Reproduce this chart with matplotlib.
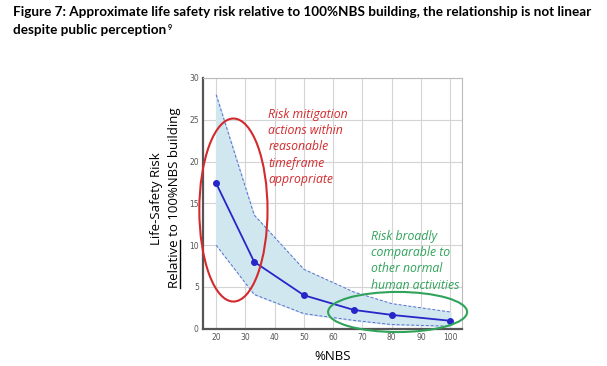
import matplotlib.pyplot as plt
from matplotlib.patches import Ellipse
from matplotlib.lines import Line2D

# data
nbs = [20, 33, 50, 67, 80, 100]
risk = [17.4, 8.0, 4.0, 2.25, 1.65, 0.95]
risk_upper = [28.0, 13.6, 7.1, 4.4, 3.0, 2.0]
risk_lower = [10.0, 4.1, 1.8, 1.0, 0.5, 0.3]

xticks = [20, 30, 40, 50, 60, 70, 80, 90, 100]
yticks = [0, 5, 10, 15, 20, 25, 30]

title1 = ("Figure 7: Approximate life safety risk relative to 100%NBS building, "
          "the relationship is not linear")
title2 = "despite public perception"
red_note = "Risk mitigation\nactions within\nreasonable\ntimeframe\nappropriate"
green_note = "Risk broadly\ncomparable to\nother normal\nhuman activities"

blue = "#2626c9"
band = "#d0e7f0"
red = "#d32a2e"
green = "#2fa35a"

fig = plt.figure(figsize=(6.07, 3.66), dpi=100)
ax = fig.add_axes([0.3344, 0.1019, 0.4267, 0.685])

ax.fill_between(nbs, risk_lower, risk_upper, color=band, zorder=1)
ax.plot(nbs, risk_upper, color="#5a6cd0", lw=0.7, ls=(0, (3, 2)), zorder=2)
ax.plot(nbs, risk_lower, color="#5a6cd0", lw=0.7, ls=(0, (3, 2)), zorder=2)
ax.plot(nbs, risk, color=blue, lw=1.3, marker="o", ms=4, zorder=3)

ax.set_xlim(15.5, 104)
ax.set_ylim(0, 30)
ax.set_xticks(xticks)
ax.set_yticks(yticks)
ax.grid(True, color="#d4d4d4", lw=0.8)
ax.set_axisbelow(True)
ax.tick_params(labelsize=5.5, colors="#555555", length=0, pad=3)
for s in ["top", "right"]:
    ax.spines[s].set_color("#bbbbbb")
    ax.spines[s].set_linewidth(0.8)
for s in ["left", "bottom"]:
    ax.spines[s].set_color("#555555")
    ax.spines[s].set_linewidth(1.6)

# annotation ellipses
ax.add_patch(Ellipse((25.9, 14.2), 23.3, 21.9, fill=False, ec=red, lw=1.5,
                     clip_on=False, zorder=4))
ax.add_patch(Ellipse((82.0, 2.0), 47.5, 4.8, fill=False, ec=green, lw=1.5,
                     clip_on=False, zorder=4))

ax.text(37.8, 26.4, red_note, color=red, fontsize=8.8, style="italic",
        family="Open Sans", va="top", ha="left", linespacing=1.32)
ax.text(72.8, 11.8, green_note, color=green, fontsize=8.8, style="italic",
        family="Open Sans", va="top", ha="left", linespacing=1.32)

ax.set_xlabel("%NBS", fontsize=9.5, family="Open Sans", labelpad=6)

# two-line y label, second line with "Relative" underlined
fig.text(156.5 / 607, 1 - 199 / 366, "Life-Safety Risk", rotation=90,
         fontsize=9.5, family="Open Sans", ha="center", va="center")
line2 = fig.text(174.5 / 607, 1 - 198 / 366, "Relative to 100%NBS building",
                 rotation=90, fontsize=9.5, family="Open Sans",
                 ha="center", va="center")

# title, sized to span the same width as the reference
t1 = fig.text(13 / 607, 1 - 6 / 366, title1, fontsize=9, fontweight="bold",
              family="Lato", va="top", ha="left")
fig.canvas.draw()
r = fig.canvas.get_renderer()
fs = 9 * 575 / t1.get_window_extent(r).width
t1.set_fontsize(fs)
t2 = fig.text(13 / 607, 1 - 24 / 366, title2, fontsize=fs, fontweight="bold",
              family="Lato", va="top", ha="left")
fig.canvas.draw()
e2 = t2.get_window_extent(r)
fig.text((e2.x1 + 1) / 607, e2.y1 / 366, "9", fontsize=fs * 0.55,
         fontweight="bold", family="Lato", va="top", ha="left")

# underline under "Relative" (right side of the rotated text)
full = line2.get_window_extent(r)
probe = fig.text(0, 0, "Relative", fontsize=9.5, family="Open Sans")
w = probe.get_window_extent(r).width
probe.remove()
ux = full.x1 - 1.5
fig.add_artist(Line2D([ux / 607, ux / 607], [(full.y0 + 0.5) / 366, (full.y0 + w) / 366],
                      transform=fig.transFigure, color="black", lw=1.0))

fig.savefig("out.png", dpi=100)
